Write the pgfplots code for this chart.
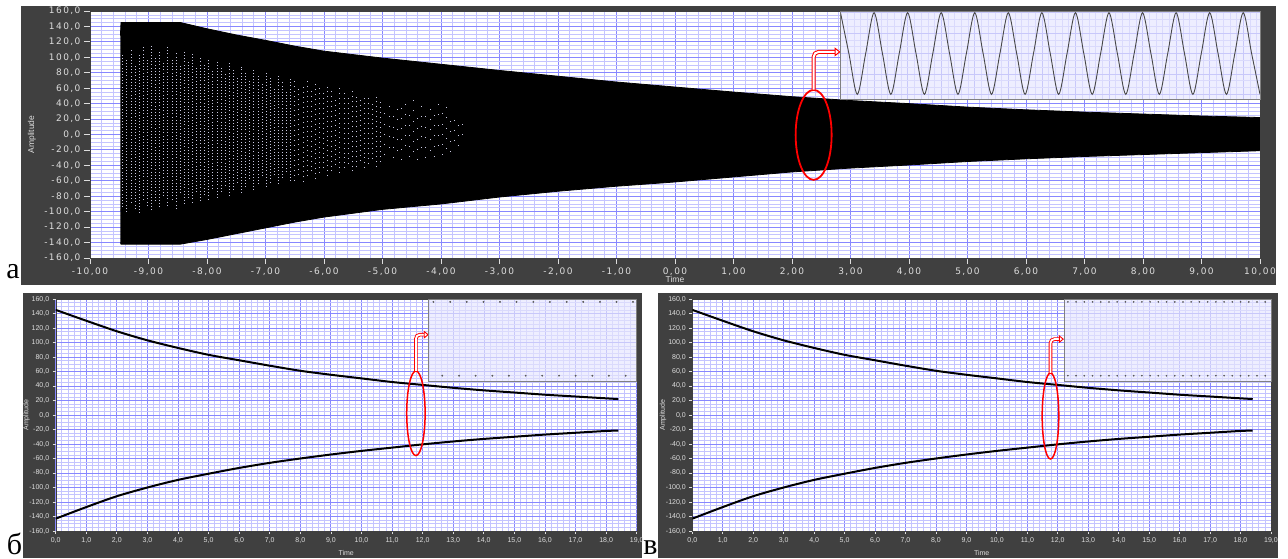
\documentclass[border=0pt]{standalone}
\usepackage{pgfplots}
\pgfplotsset{compat=1.18}
\usepackage{pgfplotstable}
\usetikzlibrary{arrows.meta}
\usepackage{fontspec}
\setmainfont{Liberation Serif}
\newfontfamily\lvfont[LetterSpace=16]{DejaVu Sans}
\newfontfamily\lvsmall{Liberation Sans}

\definecolor{panel}{RGB}{64,64,64}
\definecolor{lbl}{RGB}{222,222,222}
\definecolor{gmaj}{RGB}{135,135,255}
\definecolor{gmin}{RGB}{196,196,255}
\definecolor{insetbg}{RGB}{238,238,255}
\definecolor{igridA}{RGB}{200,200,250}
\definecolor{igridB}{RGB}{218,218,252}
\definecolor{spk}{RGB}{200,200,225}
\definecolor{wave}{RGB}{72,72,72}

% outline of the recorded signal: upper edge, then lower edge backwards
\pgfplotstableread{
x y
-9.48 128
-9.47 145
-8.45 145
-8 137
-7.5 129
-7 122
-6.5 114.5
-6 108
-5 99
-4 91
-3 83
-2 75.5
-1 68
0 61.5
1 55
2 49
3 44
4 40
5 35.5
6 32
7 29
8 26.5
9 24
10 22
10 -21
9 -23.5
8 -26
7 -28.5
6 -31.5
5 -35
4 -39.5
3 -43.5
2 -48.5
1 -55
0 -61.5
-1 -67
-2 -73.5
-3 -81
-4 -90
-5 -97
-6 -107
-6.5 -113.5
-7 -121
-7.5 -128.5
-8 -136
-8.45 -142
-9.47 -142
-9.48 -140
}\band

% extracted amplitude (peaks and troughs)
\pgfplotstableread{
t up lo
0 145 -143
1 130 -127
2 115.5 -112
3 103 -100
4 92.5 -89.5
5 83 -81
6 75.5 -73
7 68 -66
8 61 -60
9 55.5 -54.5
10 50.5 -49.5
11 45.5 -45
12 41.5 -40.5
13 37.5 -36.5
14 34 -33
15 31 -30
16 28 -27
17 25.5 -24.5
18 23 -22
18.4 22 -21.5
}\decay

\pgfplotsset{
  lvplot/.style={
    scale only axis, anchor=south west,
    axis background/.style={fill=white},
    grid=both,
    major grid style={gmaj, line width=0.9pt},
    minor grid style={gmin, line width=0.7pt},
    axis line style={draw=panel},
    tick pos=left, tick align=outside,
    minor tick length=0pt,
    tick style={lbl, line width=0.8pt},
    ticklabel style={text=lbl},
    label style={text=lbl},
    ymin=-160, ymax=160, ytick distance=20, minor y tick num=3,
    xtick distance=1, minor x tick num=4,
    /pgf/number format/assume math mode=true,
    /pgf/number format/fixed,
    /pgf/number format/fixed zerofill,
    /pgf/number format/use comma,
    yticklabel style={/pgf/number format/precision=1},
  },
  insetplot/.style={
    scale only axis, anchor=south west,
    axis background/.style={fill=insetbg},
    grid=both,
    major grid style={igridA, line width=0.6pt},
    minor grid style={igridB, line width=0.5pt},
    axis line style={draw=gray, line width=0.8pt},
    xticklabels={}, yticklabels={},
    major tick length=0pt, minor tick length=0pt,
  },
  smallfont/.style={
    ticklabel style={font=\lvsmall\fontsize{7}{8}\selectfont},
    label style={font=\lvsmall\fontsize{7}{8}\selectfont},
    major tick length=3pt,
  },
  speckle/.style={
    only marks, mark=none,
    error bars/.cd, y dir=plus, y explicit, error mark=none,
    error bar style={spk, line width=0.75pt, dash pattern=#1},
  },
}

\begin{document}
\begin{tikzpicture}[x=1pt,y=1pt]
\useasboundingbox (0,0) rectangle (1288,558);
\fill[panel] (21,273) rectangle (1276,552);
\fill[panel] (23,0) rectangle (642,265);
\fill[panel] (658,0) rectangle (1278,265);

% ---------- a: full record ----------
\begin{axis}[lvplot, at={(90pt,300pt)}, width=1170pt, height=247pt,
  xmin=-10, xmax=10, major tick length=6pt,
  ticklabel style={font=\lvfont\fontsize{9}{10}\selectfont},
  xticklabel style={/pgf/number format/precision=2},
  xlabel={Time}, ylabel={Amplitude},
  label style={font=\lvsmall\fontsize{8.5}{9}\selectfont},
  xlabel style={at={(axis description cs:0.5,-0.085)}, anchor=center},
  ylabel style={at={(axis description cs:-0.0496,0.5)}, anchor=center}]
\addplot[fill=black, draw=black, line width=0.8pt] table[x=x,y=y]{\band};
% light sample points left visible inside the dense band: column start, length
\addplot[speckle={on 0.75pt off 2.4pt}] coordinates {
(-9.44,-98) += (0,203) (-9.37,-104) += (0,200) (-9.30,-92) += (0,204)
(-9.23,-100) += (0,190) (-9.16,-106) += (0,210) (-9.09,-88) += (0,203)
(-9.02,-96) += (0,194) (-8.95,-102) += (0,220) (-8.88,-90) += (0,190)
(-8.81,-98) += (0,208) (-8.74,-84) += (0,178) (-8.67,-96) += (0,210)
(-8.60,-88) += (0,186) (-8.53,-100) += (0,206) (-8.46,-80) += (0,170)
(-8.39,-94) += (0,204) (-8.32,-86) += (0,181) (-8.25,-92) += (0,196)
(-8.18,-78) += (0,166) (-8.11,-90) += (0,190) (-8.04,-82) += (0,174)
(-7.97,-88) += (0,185) (-7.90,-74) += (0,158) (-7.83,-86) += (0,180)
(-7.76,-78) += (0,166) (-7.69,-70) += (0,150) (-7.62,-84) += (0,176)
(-7.55,-76) += (0,160) (-7.48,-66) += (0,140) (-7.41,-80) += (0,168)
(-7.34,-72) += (0,152) (-7.27,-62) += (0,132) (-7.20,-76) += (0,161)
(-7.13,-68) += (0,144) (-7.06,-58) += (0,124) (-6.99,-72) += (0,152)
(-6.92,-66) += (0,140) (-6.85,-56) += (0,118) (-6.78,-68) += (0,145)
(-6.71,-60) += (0,128) (-6.64,-52) += (0,110) (-6.57,-64) += (0,136)
};
\addplot[speckle={on 0.75pt off 4.2pt}] coordinates {
(-6.50,-66) += (0,136) (-6.43,-58) += (0,120) (-6.36,-68) += (0,134)
(-6.29,-60) += (0,130) (-6.22,-54) += (0,112) (-6.15,-64) += (0,130)
(-6.08,-56) += (0,116) (-6.01,-50) += (0,106) (-5.94,-60) += (0,122)
(-5.87,-54) += (0,112) (-5.80,-46) += (0,96) (-5.73,-56) += (0,116)
(-5.66,-50) += (0,104) (-5.59,-44) += (0,92) (-5.52,-54) += (0,110)
(-5.45,-48) += (0,98) (-5.38,-40) += (0,86) (-5.31,-50) += (0,102)
(-5.24,-44) += (0,92) (-5.17,-38) += (0,80) (-5.10,-48) += (0,98)
(-5.03,-42) += (0,86)
};
\addplot[speckle={on 0.75pt off 9.5pt}] coordinates {
(-4.96,-40) += (0,78) (-4.89,-30) += (0,74) (-4.82,-44) += (0,74)
(-4.75,-34) += (0,74) (-4.68,-46) += (0,80) (-4.61,-28) += (0,72)
(-4.54,-42) += (0,72) (-4.47,-36) += (0,82) (-4.40,-46) += (0,72)
(-4.33,-30) += (0,70) (-4.26,-44) += (0,78) (-4.19,-34) += (0,78)
(-4.12,-42) += (0,70) (-4.05,-28) += (0,68) (-3.98,-40) += (0,70)
(-3.91,-32) += (0,68) (-3.84,-36) += (0,60) (-3.77,-22) += (0,52)
(-3.70,-28) += (0,48) (-3.63,-14) += (0,30)
};
\draw[red, line width=1.8pt] (axis cs:2.37,-0.5) ellipse [x radius=18pt, y radius=45pt];
\draw[red, line width=1pt, double=white, double distance=2pt, rounded corners=5pt,
  -{Triangle[open, fill=white, length=6pt, width=9pt]}]
  (axis cs:2.37,58) -- (axis cs:2.37,107) -- (axis cs:2.83,107);
\end{axis}

% detail of the oscillation
\begin{axis}[insetplot, at={(840.5pt,459pt)}, width=419.5pt, height=88pt,
  xmin=0, xmax=12.5, ymin=-1.114, ymax=1.041,
  xtick distance=1, minor x tick num=4,
  ytick={-1,-0.5,0,0.5,1}, minor y tick num=2]
\addplot[wave, line width=0.9pt, smooth] coordinates {
(0,1)(0.25,0)(0.5,-1)(0.75,0)(1,1)(1.25,0)(1.5,-1)(1.75,0)
(2,1)(2.25,0)(2.5,-1)(2.75,0)(3,1)(3.25,0)(3.5,-1)(3.75,0)
(4,1)(4.25,0)(4.5,-1)(4.75,0)(5,1)(5.25,0)(5.5,-1)(5.75,0)
(6,1)(6.25,0)(6.5,-1)(6.75,0)(7,1)(7.25,0)(7.5,-1)(7.75,0)
(8,1)(8.25,0)(8.5,-1)(8.75,0)(9,1)(9.25,0)(9.5,-1)(9.75,0)
(10,1)(10.25,0)(10.5,-1)(10.75,0)(11,1)(11.25,0)(11.5,-1)(11.75,0)
(12,1)(12.25,0)(12.5,-1)};
\end{axis}

% ---------- б ----------
\begin{axis}[lvplot, smallfont, at={(55.7pt,27pt)}, width=581pt, height=232pt,
  xmin=0, xmax=19,
  xticklabel style={/pgf/number format/precision=1},
  xlabel={Time}, ylabel={Amplitude},
  xlabel style={at={(axis description cs:0.5,-0.095)}, anchor=center},
  ylabel style={at={(axis description cs:-0.05,0.5)}, anchor=center}]
\addplot[black, line width=2pt, smooth] table[x=t,y=up]{\decay};
\addplot[black, line width=2pt, smooth] table[x=t,y=lo]{\decay};
\draw[red, line width=1.5pt] (axis cs:11.78,2.4) ellipse [x radius=9.2pt, y radius=42.3pt];
\draw[red, line width=0.9pt, double=white, double distance=1.8pt, rounded corners=4pt,
  -{Triangle[open, fill=white, length=5pt, width=8pt]}]
  (axis cs:11.78,60.8) -- (axis cs:11.78,110.8) -- (axis cs:12.2,110.8);
\end{axis}
\begin{axis}[insetplot, at={(428.8pt,176.5pt)}, width=207.9pt, height=82.5pt,
  xmin=12.2, xmax=19, ymin=46, ymax=160,
  xtick distance=1, minor x tick num=4, ytick distance=20, minor y tick num=3]
\addplot[only marks, mark=*, mark size=0.7pt, gray!70!black] coordinates {
(12.35,156)(12.90,156)(13.44,156)(13.99,156)(14.53,156)(15.07,156)(15.62,156)
(16.16,156)(16.71,156)(17.25,156)(17.80,156)(18.34,156)(18.88,156)
(12.64,54)(13.19,54)(13.73,54)(14.28,54)(14.82,54)(15.37,54)
(15.91,54)(16.46,54)(17.00,54)(17.55,54)(18.09,54)(18.64,54)};
\end{axis}

% ---------- в ----------
\begin{axis}[lvplot, smallfont, at={(692.3pt,27pt)}, width=578.7pt, height=232pt,
  xmin=0, xmax=19,
  xticklabel style={/pgf/number format/precision=1},
  xlabel={Time}, ylabel={Amplitude},
  xlabel style={at={(axis description cs:0.5,-0.095)}, anchor=center},
  ylabel style={at={(axis description cs:-0.0506,0.5)}, anchor=center}]
\addplot[black, line width=2pt, smooth] table[x=t,y=up]{\decay};
\addplot[black, line width=2pt, smooth] table[x=t,y=lo]{\decay};
\draw[red, line width=1.5pt] (axis cs:11.76,-1.4) ellipse [x radius=8.3pt, y radius=43pt];
\draw[red, line width=0.9pt, double=white, double distance=1.8pt, rounded corners=4pt,
  -{Triangle[open, fill=white, length=5pt, width=8pt]}]
  (axis cs:11.76,58) -- (axis cs:11.76,104.7) -- (axis cs:12.2,104.7);
\end{axis}
\begin{axis}[insetplot, at={(1063.9pt,176.5pt)}, width=207.1pt, height=82.5pt,
  xmin=12.2, xmax=19, ymin=46, ymax=160,
  xtick distance=1, minor x tick num=4, ytick distance=20, minor y tick num=3]
\addplot[only marks, mark=*, mark size=0.6pt, gray!70!black] coordinates {
(12.33,156)(12.60,156)(12.87,156)(13.14,156)(13.41,156)(13.68,156)(13.95,156)
(14.22,156)(14.49,156)(14.76,156)(15.03,156)(15.30,156)(15.57,156)(15.84,156)
(16.11,156)(16.38,156)(16.65,156)(16.92,156)(17.19,156)(17.46,156)(17.73,156)
(18.00,156)(18.27,156)(18.54,156)(18.81,156)
(12.33,54)(12.60,54)(12.87,54)(13.14,54)(13.41,54)(13.68,54)(13.95,54)
(14.22,54)(14.49,54)(14.76,54)(15.03,54)(15.30,54)(15.57,54)(15.84,54)
(16.11,54)(16.38,54)(16.65,54)(16.92,54)(17.19,54)(17.46,54)(17.73,54)
(18.00,54)(18.27,54)(18.54,54)(18.81,54)};
\end{axis}

\node[anchor=base, font=\fontsize{30}{30}\selectfont, inner sep=0pt] at (13,280) {a};
\node[anchor=base, font=\fontsize{30}{30}\selectfont, inner sep=0pt] at (14.5,4) {б};
\node[anchor=base, font=\fontsize{30}{30}\selectfont, inner sep=0pt] at (650.5,4) {в};
\end{tikzpicture}
\end{document}
